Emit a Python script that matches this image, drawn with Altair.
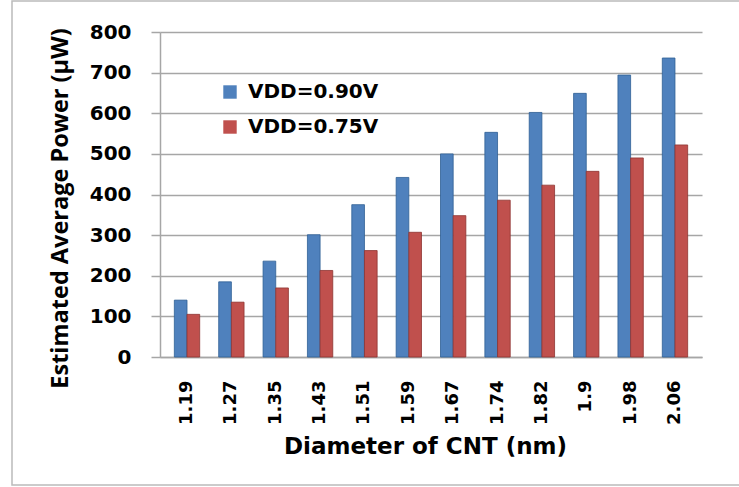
import altair as alt
import pandas as pd

diameters = ["1.19", "1.27", "1.35", "1.43", "1.51", "1.59", "1.67", "1.74", "1.82", "1.9", "1.98", "2.06"]
vdd_090 = [140, 185, 236, 301, 375, 442, 500, 553, 602, 649, 694, 736]
vdd_075 = [105, 135, 170, 213, 262, 307, 348, 386, 423, 457, 490, 522]
series_names = ["VDD=0.90V", "VDD=0.75V"]
series_colors = ["#4F81BD", "#C0504D"]

rows = []
for d, a, b in zip(diameters, vdd_090, vdd_075):
    rows.append({"d": d, "s": series_names[0], "v": a})
    rows.append({"d": d, "s": series_names[1], "v": b})
df = pd.DataFrame(rows)

frame = alt.Chart(pd.DataFrame({"k": [0]})).mark_rect(
    fillOpacity=0, stroke="#BBBBBB", strokeWidth=1.5
).encode(x=alt.value(-148), x2=alt.value(590), y=alt.value(-31), y2=alt.value(453))

bars = alt.Chart(df).mark_bar(strokeWidth=0.8).encode(
    x=alt.X("d:N", sort=diameters,
            scale=alt.Scale(paddingInner=0, paddingOuter=0.109),
            axis=alt.Axis(title="Diameter of CNT (nm)", labelAngle=270, labelFont="DejaVu Sans",
                          labelFontWeight="bold", labelFontSize=18, labelColor="black",
                          labelPadding=23, ticks=False, domainColor="#A6A6A6", domainWidth=1.5,
                          titleFont="DejaVu Sans", titleFontWeight="bold", titleFontSize=23,
                          titleColor="black", titleX=265, titleY=89, titleBaseline="middle",
                          titleAlign="center")),
    xOffset=alt.XOffset("s:N", sort=series_names,
                        scale=alt.Scale(paddingInner=0, paddingOuter=0.75)),
    y=alt.Y("v:Q", scale=alt.Scale(domain=[0, 800]),
            axis=alt.Axis(title="Estimated Average Power (\u00b5W)", values=list(range(0, 801, 100)),
                          labelFont="DejaVu Sans", labelFontWeight="bold", labelFontSize=20,
                          labelColor="black", labelPadding=20, tickSize=9, tickColor="#A6A6A6",
                          tickWidth=1.5, domainColor="#A6A6A6", domainWidth=1.5,
                          gridColor="#A6A6A6", gridWidth=1.5,
                          titleFont="Open Sans", titleFontWeight="bold", titleFontSize=23.5,
                          titleColor="black", titleX=-100, titleY=176, titleBaseline="middle",
                          titleAlign="center", titleAngle=270)),
    color=alt.Color("s:N", sort=series_names,
                    scale=alt.Scale(domain=series_names, range=series_colors),
                    legend=alt.Legend(title=None, orient="none", legendX=60, legendY=50,
                                      symbolType="square", symbolSize=180, labelFont="DejaVu Sans",
                                      labelFontWeight="bold", labelFontSize=20, labelColor="black",
                                      rowPadding=15, labelOffset=8, symbolStrokeWidth=0)),
    stroke=alt.Stroke("s:N", sort=series_names,
                      scale=alt.Scale(domain=series_names, range=["#2F5F94", "#8E3431"]),
                      legend=None),
)

chart = alt.layer(bars, frame).properties(
    width=542, height=325,
    autosize=alt.AutoSizeParams(type="none"),
    padding={"left": 160, "top": 32, "right": 37, "bottom": 130},
    background="white",
).configure_view(stroke=None)

chart.save("out.html", embed_options={"renderer": "svg", "actions": False})
